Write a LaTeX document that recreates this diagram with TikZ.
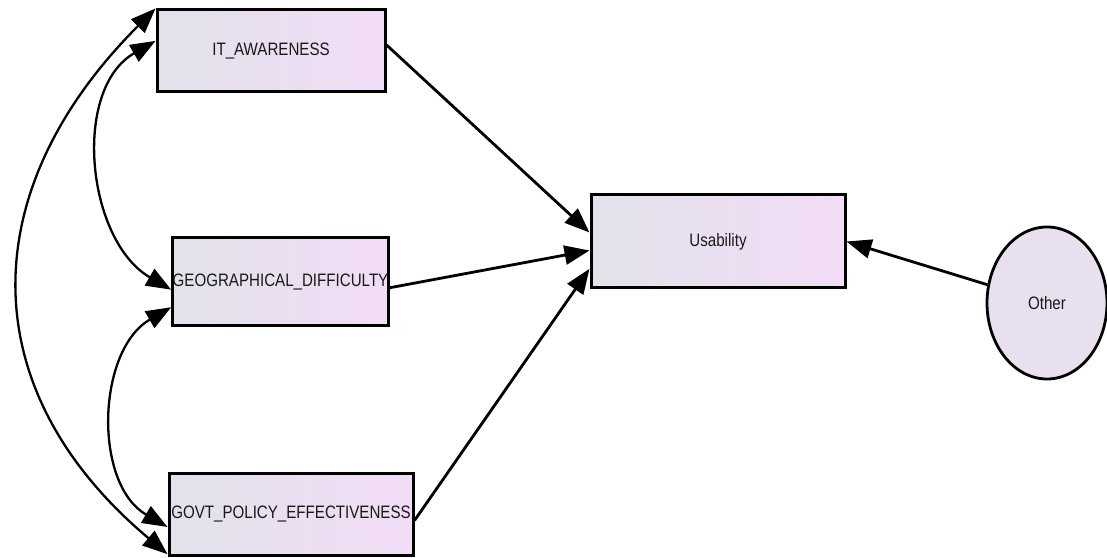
\documentclass[tikz,border=0pt]{standalone}
\usepackage{fontspec}
\setmainfont[FakeStretch=0.84]{Liberation Sans}
\usepackage{tikz}
\usetikzlibrary{positioning}
\usetikzlibrary{shapes.geometric}
\usetikzlibrary{arrows.meta}

\definecolor{boxgray}{RGB}{226,226,234}
\definecolor{boxpink}{RGB}{242,220,246}
\definecolor{txtgray}{RGB}{25,25,25}

\tikzset{
	var/.style = {draw, rectangle, line width = 3pt, left color = boxgray, right color = boxpink, inner sep = 0pt, text = txtgray, font = \fontsize{18}{21}\selectfont},
	err/.style = {draw, ellipse, line width = 2.8pt, fill = boxgray!60!boxpink, inner sep = 0pt, text = txtgray, font = \fontsize{18}{21}\selectfont},
	regpath/.style = {line width = 2.8pt, -{Triangle[length = 25pt, width = 19pt]}},
	covpath/.style = {line width = 2.3pt, {Triangle[length = 25pt, width = 19pt]}-{Triangle[length = 25pt, width = 19pt]}}
}

\begin{document}
\begin{tikzpicture}[x = 1pt, y = 1pt]
		\useasboundingbox (0,0) rectangle (1107,557);
		\node[var, minimum width = 228pt, minimum height = 82pt] at (271,506) (it) {IT\_AWARENESS};
		\node[var, minimum width = 213pt, minimum height = 88pt] at (280.5,275) (geo) {GEOGRAPHICAL\_DIFFICULTY};
		\node[var, minimum width = 244pt, minimum height = 82pt] at (291,43) (govt) {GOVT\_POLICY\_EFFECTIVENESS};
		\node[var, minimum width = 254pt, minimum height = 93pt] at (718,315.5) (usab) {Usability};
		\node[err, minimum width = 120pt, minimum height = 152pt] at (1047,254) (other) {Other};
		% regression paths
		\draw[regpath] (it.3) -- (usab.176);
		\draw[regpath] (geo.357) -- (usab.184);
		\draw[regpath] (govt.357) -- (usab.192);
		\draw[regpath] (other) -- (usab.east);
		% covariances
		\draw[covpath] (it.175) to[out = 210, in = 150] (geo.184);
		\draw[covpath] (geo.193) to[out = 210, in = 150] (govt.186);
		\draw[covpath] (it.north west) to[out = 225, in = 140, looseness = 1.2] (govt.198);
	\end{tikzpicture}
\end{document}
